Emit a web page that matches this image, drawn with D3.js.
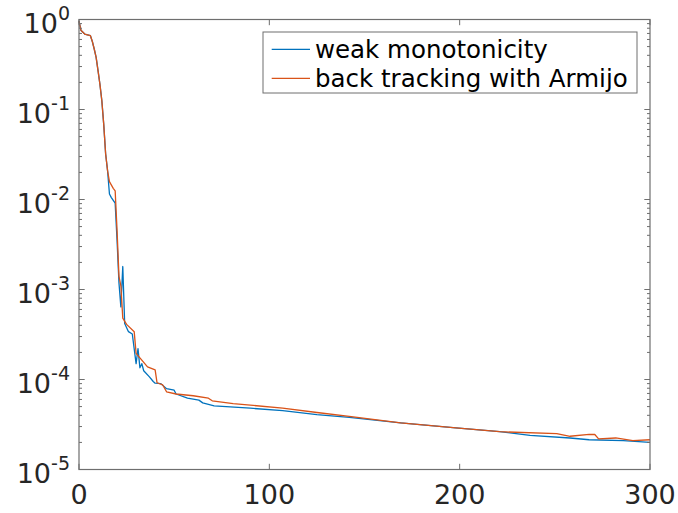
<!DOCTYPE html>
<html>
<head>
<meta charset="utf-8">
<script src="https://cdn.jsdelivr.net/npm/d3@7"></script>
<style>
  html, body { margin: 0; padding: 0; background: #fff; }
  svg { display: block; font-family: "DejaVu Sans", sans-serif; }
</style>
</head>
<body>
<svg id="chart" width="678" height="513"></svg>
<script>
// ---- data ----
const seriesNames = ["weak monotonicity", "back tracking with Armijo"];
const seriesColors = ["#0072BD", "#D95319"];

const weakIter = [0, 1, 3, 6, 7, 8, 9, 10, 11, 12, 13, 14, 15, 16, 17, 19, 20, 21, 22, 23, 24, 26, 28, 30, 31, 32, 33, 34, 37, 39, 40, 43, 46, 50, 51, 57, 63, 65, 71, 90, 107, 125, 142, 169, 198, 221, 237, 258, 268, 286, 300];
const weakVal = [0.96, 0.76, 0.69, 0.66, 0.57, 0.47, 0.38, 0.27, 0.19, 0.125, 0.068, 0.032, 0.021, 0.0115, 0.0105, 0.0091, 0.0035, 0.00118, 0.00064, 0.0018, 0.00042, 0.00034, 0.00032, 0.00015, 0.00022, 0.000135, 0.00015, 0.000125, 0.000107, 0.000095, 0.000091, 0.00009, 0.000079, 0.000076, 0.000069, 0.000062, 0.000059, 0.000055, 0.000051, 0.000048, 0.000045, 0.0000407, 0.000038, 0.000033, 0.000029, 0.0000263, 0.000024, 0.0000224, 0.0000214, 0.0000209, 0.00002];

const armijoIter = [0, 1, 3, 6, 7, 8, 9, 10, 11, 12, 13, 14, 15, 16, 18, 19, 20, 21, 22, 23, 25, 29, 30, 32, 36, 40, 41, 44, 46, 51, 60, 68, 70, 81, 107, 125, 142, 169, 198, 221, 251, 258, 268, 271, 273, 282, 291, 300];
const armijoVal = [0.96, 0.76, 0.69, 0.66, 0.57, 0.47, 0.38, 0.27, 0.19, 0.125, 0.068, 0.032, 0.021, 0.0158, 0.0133, 0.0125, 0.0045, 0.0014, 0.0011, 0.00048, 0.00041, 0.00034, 0.000195, 0.000174, 0.000138, 0.000128, 0.000092, 0.000087, 0.000073, 0.000069, 0.000066, 0.000062, 0.000058, 0.000054, 0.000048, 0.000043, 0.000039, 0.000033, 0.000029, 0.0000263, 0.000025, 0.0000234, 0.0000245, 0.0000245, 0.0000219, 0.0000224, 0.0000209, 0.0000214];

const xTicks = [0, 100, 200, 300];
const yTickExps = [0, -1, -2, -3, -4, -5];

// ---- layout ----
const svg = d3.select("#chart");
const L = 79, R = 650, T = 19.5, B = 469.5;
const axisColor = "#6e6e6e", textColor = "#262626";

const x = d3.scaleLinear().domain([0, 300]).range([L, R]);
const y = d3.scaleLog().domain([1e-5, 1]).range([B, T]);

// lines
const series = [
  weakIter.map((d, i) => [d, weakVal[i]]),
  armijoIter.map((d, i) => [d, armijoVal[i]])
];
const line = d3.line().x(d => x(d[0])).y(d => y(d[1]));
series.forEach((s, i) => {
  svg.append("path").attr("d", line(s))
    .attr("fill", "none").attr("stroke", seriesColors[i])
    .attr("stroke-width", 1.3).attr("stroke-linejoin", "round");
});

// ticks (inward), box
const g = svg.append("g");
const xt = 5.7, ymaj = 5.7, ymin = 3;
xTicks.forEach(v => {
  g.append("line").attr("x1", x(v)).attr("x2", x(v)).attr("y1", B).attr("y2", B - xt).attr("stroke", axisColor);
  g.append("line").attr("x1", x(v)).attr("x2", x(v)).attr("y1", T).attr("y2", T + xt).attr("stroke", axisColor);
});
for (let e = -5; e <= 0; e++) {
  for (let m = 1; m <= 9; m++) {
    const v = m * Math.pow(10, e);
    if (v > 1) break;
    const len = (m === 1) ? ymaj : ymin;
    const yy = y(v);
    g.append("line").attr("x1", L).attr("x2", L + len).attr("y1", yy).attr("y2", yy).attr("stroke", axisColor);
    g.append("line").attr("x1", R).attr("x2", R - len).attr("y1", yy).attr("y2", yy).attr("stroke", axisColor);
  }
}
g.append("rect").attr("x", L).attr("y", T).attr("width", R - L).attr("height", B - T)
  .attr("fill", "none").attr("stroke", axisColor).attr("stroke-width", 1.2);

// x labels
xTicks.forEach(v => {
  svg.append("text").attr("x", x(v)).attr("y", 504)
    .attr("text-anchor", "middle").attr("font-size", 27).attr("fill", textColor).text(v);
});
// y labels
yTickExps.forEach(e => {
  const t = svg.append("text").attr("x", 70).attr("y", y(Math.pow(10, e)) + 13)
    .attr("text-anchor", "end").attr("font-size", 27).attr("fill", textColor);
  t.append("tspan").text("10");
  t.append("tspan").attr("dy", -13).attr("font-size", 19).text(e === 0 ? "0" : "-" + (-e));
});

// legend
svg.append("rect").attr("x", 263).attr("y", 32).attr("width", 374).attr("height", 61)
  .attr("fill", "#fff").attr("stroke", axisColor).attr("stroke-width", 1);
seriesNames.forEach((n, i) => {
  const cy = 49.3 + i * 29;
  svg.append("line").attr("x1", 271.7).attr("x2", 310).attr("y1", cy).attr("y2", cy)
    .attr("stroke", seriesColors[i]).attr("stroke-width", 1.3);
  svg.append("text").attr("x", 315).attr("y", 58 + i * 29)
    .attr("font-size", 24.5).attr("fill", "#000").text(n);
});
</script>
</body>
</html>
